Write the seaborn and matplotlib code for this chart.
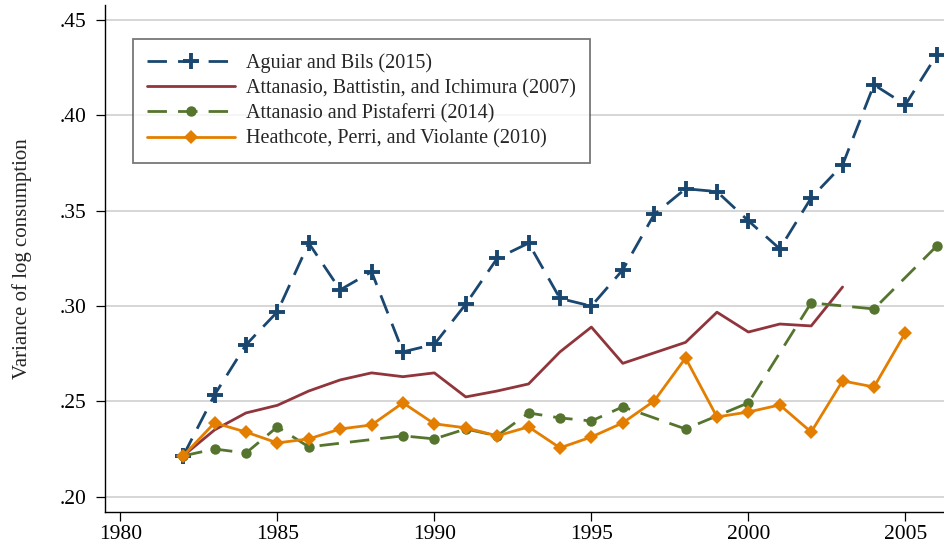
import numpy as np
import pandas as pd
import matplotlib
matplotlib.use("Agg")
import matplotlib.pyplot as plt
import seaborn as sns
from matplotlib.ticker import FuncFormatter

# ---- data ----
ab_years = list(range(1982, 2007))
ab_vals = [0.2215, 0.2535, 0.2797, 0.2970, 0.3330, 0.3085, 0.3180, 0.2760, 0.2800,
           0.3010, 0.3250, 0.3330, 0.3040, 0.3000, 0.3190, 0.3480, 0.3615, 0.3600,
           0.3447, 0.3300, 0.3567, 0.3740, 0.4160, 0.4055, 0.4316]

abi_years = list(range(1982, 2004))
abi_vals = [0.2215, 0.2351, 0.2440, 0.2480, 0.2555, 0.2613, 0.2650, 0.2630, 0.2650,
            0.2524, 0.2555, 0.2592, 0.2760, 0.2890, 0.2700, 0.2755, 0.2810, 0.2968,
            0.2864, 0.2906, 0.2896, 0.3100]

ap_years = [1982, 1983, 1984, 1985, 1986, 1989, 1990, 1991, 1992, 1993, 1994, 1995,
            1996, 1998, 2000, 2002, 2004, 2006]
ap_vals = [0.2215, 0.2251, 0.2230, 0.2367, 0.2262, 0.2320, 0.2304, 0.2356, 0.2320,
           0.2440, 0.2414, 0.2398, 0.2472, 0.2356, 0.2493, 0.3017, 0.2985, 0.3315]

hpv_years = list(range(1982, 2006))
hpv_vals = [0.2215, 0.2388, 0.2340, 0.2283, 0.2304, 0.2356, 0.2377, 0.2493, 0.2383,
            0.2362, 0.2320, 0.2367, 0.2257, 0.2314, 0.2388, 0.2503, 0.2728, 0.2419,
            0.2445, 0.2482, 0.2340, 0.2608, 0.2576, 0.2860]

labels = ["Aguiar and Bils (2015)",
          "Attanasio, Battistin, and Ichimura (2007)",
          "Attanasio and Pistaferri (2014)",
          "Heathcote, Perri, and Violante (2010)"]
x_ticks = [1980, 1985, 1990, 1995, 2000, 2005]
y_ticks = [0.20, 0.25, 0.30, 0.35, 0.40, 0.45]

# ---- style ----
sns.set_theme(style="white")
plt.rcParams['font.family'] = ['Liberation Serif', 'DejaVu Serif']

navy = "#1a476f"
maroon = "#90353b"
green = "#55752f"
orange = "#e37e00"

fig = plt.figure(figsize=(9.44, 5.46), dpi=100)
ax = fig.add_axes([0.1112, 0.0623, 0.8888, 0.9286])

lw = 2.0
dash = (0, (7, 4))

sns.lineplot(x=ab_years, y=ab_vals, ax=ax, color=navy, linewidth=lw, linestyle=dash,
             marker='+', markersize=11, markeredgewidth=2.8, markeredgecolor=navy,
             label=labels[0], zorder=3)
sns.lineplot(x=abi_years, y=abi_vals, ax=ax, color=maroon, linewidth=lw,
             label=labels[1], zorder=3)
sns.lineplot(x=ap_years, y=ap_vals, ax=ax, color=green, linewidth=lw, linestyle=dash,
             marker='o', markersize=7.5, markeredgewidth=0, markerfacecolor=green,
             label=labels[2], zorder=4)
sns.lineplot(x=hpv_years, y=hpv_vals, ax=ax, color=orange, linewidth=lw,
             marker='D', markersize=7.5, markeredgewidth=0, markerfacecolor=orange,
             label=labels[3], zorder=5)

ax.set_xlim(1979.51, 2006.23)
ax.set_ylim(0.1921, 0.4578)
ax.set_xticks(x_ticks)
ax.set_yticks(y_ticks)
ax.yaxis.set_major_formatter(FuncFormatter(lambda v, p: ("%.2f" % v)[1:]))
ax.grid(axis='y', color='#d0d0d0', linewidth=1.2)
ax.grid(axis='x', visible=False)
ax.set_axisbelow(True)

for s in ['top', 'right']:
    ax.spines[s].set_visible(False)
for s in ['left', 'bottom']:
    ax.spines[s].set_color('black')
    ax.spines[s].set_linewidth(1.0)

ax.tick_params(axis='both', which='major', direction='out', colors='black',
               labelsize=15.5, width=0.9, left=True, bottom=True)
ax.tick_params(axis='x', length=6.5, pad=3)
ax.tick_params(axis='y', length=6.5, pad=7)
ax.set_xlabel("")
ax.set_ylabel("Variance of log consumption", fontsize=15, labelpad=20)

leg = ax.legend(loc='upper left', bbox_to_anchor=(0.033, 0.933), borderaxespad=0,
                fontsize=14.5, frameon=True, fancybox=False, edgecolor='#555555',
                handlelength=4.4, handletextpad=0.55, labelspacing=0.3,
                borderpad=0.7)
leg.get_frame().set_linewidth(1.3)

fig.savefig("out.png", dpi=100)
